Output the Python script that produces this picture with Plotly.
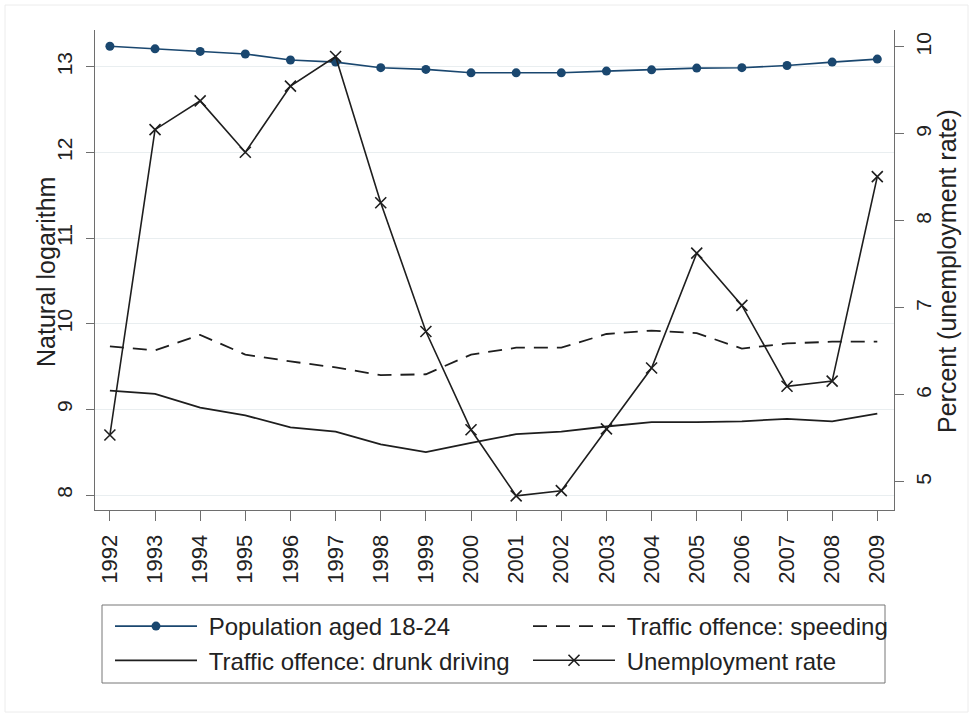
import plotly.graph_objects as go

# Annual series, 1992-2009
years = list(range(1992, 2010))
population_18_24 = [13.24, 13.21, 13.18, 13.15, 13.08, 13.055, 12.99, 12.97, 12.93,
                    12.93, 12.93, 12.95, 12.965, 12.985, 12.99, 13.015, 13.055, 13.09]
speeding = [9.735, 9.69, 9.87, 9.64, 9.56, 9.49, 9.40, 9.41, 9.64,
            9.72, 9.72, 9.88, 9.92, 9.89, 9.71, 9.77, 9.79, 9.79]
drunk_driving = [9.22, 9.18, 9.02, 8.93, 8.79, 8.74, 8.59, 8.50, 8.61,
                 8.71, 8.74, 8.80, 8.85, 8.85, 8.86, 8.89, 8.86, 8.95]
unemployment = [5.54, 9.05, 9.38, 8.79, 9.55, 9.89, 8.21, 6.73, 5.60,
                4.84, 4.90, 5.61, 6.31, 7.63, 7.03, 6.10, 6.16, 8.51]

left_ticks = [8, 9, 10, 11, 12, 13]
right_ticks = [5, 6, 7, 8, 9, 10]

FONT = "Liberation Sans, Arial, sans-serif"
NAVY = "#1a476f"
INK = "#1e1e1e"
AXIS = "#6e6e6e"
NBSP = "\u00a0"

# plot area in pixels
PL, PR, PT, PB = 95, 894, 30, 510
PW, PH = PR - PL, PB - PT


def px_x(x):
    return (x - PL) / PW


def px_y(y):
    return (PB - y) / PH


fig = go.Figure()

fig.add_trace(go.Scatter(
    x=years, y=population_18_24, name=NBSP + "Population aged 18-24",
    mode="lines+markers", legend="legend",
    line=dict(color=NAVY, width=1.6),
    marker=dict(color=NAVY, size=9, symbol="circle"),
))
fig.add_trace(go.Scatter(
    x=years, y=drunk_driving, name=NBSP + "Traffic offence: drunk driving",
    mode="lines", legend="legend",
    line=dict(color=INK, width=1.8),
))
fig.add_trace(go.Scatter(
    x=years, y=speeding, name=NBSP + "Traffic offence: speeding",
    mode="lines", legend="legend2",
    line=dict(color=INK, width=1.8, dash="14px,9px"),
))
fig.add_trace(go.Scatter(
    x=years, y=unemployment, name=NBSP + "Unemployment rate",
    mode="lines+markers", yaxis="y2", legend="legend2",
    line=dict(color=INK, width=1.6),
    marker=dict(symbol="x-thin", size=11, color=INK,
                line=dict(width=1.6, color=INK)),
))

legend_common = dict(
    orientation="v", xanchor="left", yanchor="top",
    y=px_y(604),
    font=dict(size=24, family=FONT, color="#222222"),
    borderwidth=0, bgcolor="rgba(0,0,0,0)",
    itemwidth=82, traceorder="normal",
)

fig.update_layout(
    width=976, height=714,
    margin=dict(l=PL, r=976 - PR, t=PT, b=714 - PB, autoexpand=False),
    paper_bgcolor="white", plot_bgcolor="white",
    font=dict(family=FONT, color="#222222"),
    showlegend=True,
    xaxis=dict(
        range=[1991.67, 2009.37],
        tickmode="array", tickvals=years, ticktext=[str(y) for y in years],
        tickangle=-90, tickfont=dict(size=22), ticklabelstandoff=5,
        ticks="outside", ticklen=10, tickcolor=AXIS, tickwidth=1,
        showline=True, linecolor=AXIS, linewidth=1,
        showgrid=False, zeroline=False,
    ),
    yaxis=dict(
        range=[7.825, 13.43],
        tickmode="array", tickvals=left_ticks,
        tickangle=-90, tickfont=dict(size=21), ticklabelstandoff=6,
        ticks="outside", ticklen=8, tickcolor=AXIS, tickwidth=1,
        showline=True, linecolor=AXIS, linewidth=1,
        showgrid=True, gridcolor="#e9eef0", gridwidth=1,
        zeroline=False,
    ),
    yaxis2=dict(
        range=[4.678, 10.195], overlaying="y", side="right",
        tickmode="array", tickvals=right_ticks,
        tickangle=-90, tickfont=dict(size=21), ticklabelstandoff=2,
        ticks="outside", ticklen=9, tickcolor=AXIS, tickwidth=1,
        showline=True, linecolor=AXIS, linewidth=1,
        showgrid=False, zeroline=False,
    ),
    legend=dict(x=px_x(110), **legend_common),
    legend2=dict(x=px_x(528), **legend_common),
)

# axis titles
fig.add_annotation(text="Natural logarithm", xref="paper", yref="paper",
                   x=px_x(46), y=px_y(272), textangle=-90, showarrow=False,
                   xanchor="center", yanchor="middle",
                   font=dict(size=25, family=FONT, color="#222222"))
fig.add_annotation(text="Percent (unemployment rate)", xref="paper", yref="paper",
                   x=px_x(947), y=px_y(271), textangle=-90, showarrow=False,
                   xanchor="center", yanchor="middle",
                   font=dict(size=25, family=FONT, color="#222222"))

# legend frame
fig.add_shape(type="rect", xref="paper", yref="paper",
              x0=px_x(102), x1=px_x(885), y0=px_y(683), y1=px_y(605),
              line=dict(color="#777777", width=1))

# faint outer frame around the whole graph
fig.add_shape(type="rect", xref="paper", yref="paper",
              x0=px_x(5), x1=px_x(968), y0=px_y(712), y1=px_y(5),
              line=dict(color="#ececec", width=1), layer="below")

fig.write_html("out.html")
